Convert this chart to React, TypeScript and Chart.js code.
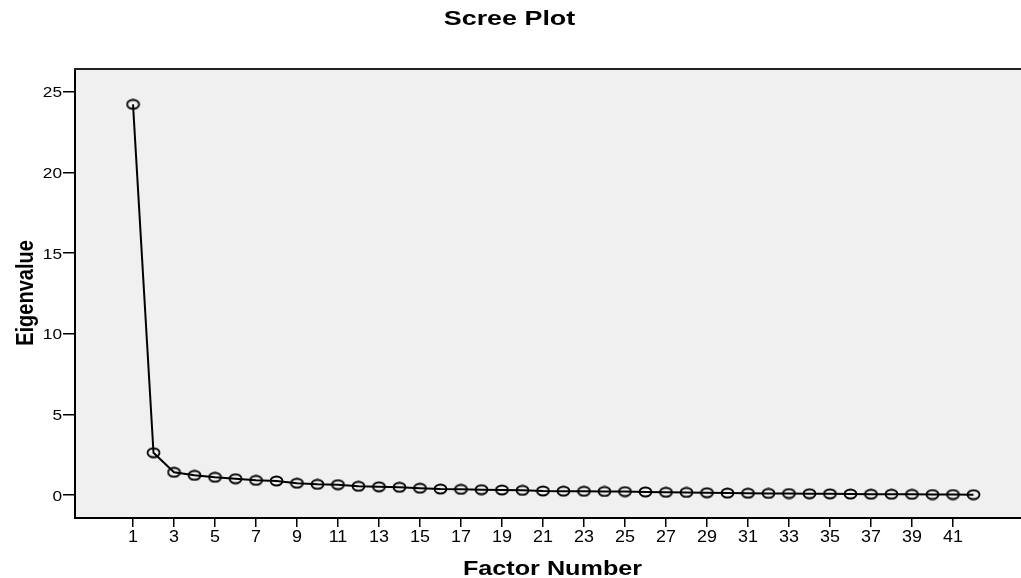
import React, { useEffect, useRef } from "react";
import { Chart, registerables } from "chart.js";

Chart.register(...registerables);

const FACTORS = [
  1, 2, 3, 4, 5, 6, 7, 8, 9, 10, 11, 12, 13, 14, 15, 16, 17, 18, 19, 20, 21,
  22, 23, 24, 25, 26, 27, 28, 29, 30, 31, 32, 33, 34, 35, 36, 37, 38, 39, 40,
  41, 42,
];
const EIGENVALUES = [
  24.22, 2.62, 1.41, 1.22, 1.1, 1.01, 0.91, 0.87, 0.73, 0.66, 0.64, 0.54, 0.51,
  0.48, 0.42, 0.37, 0.35, 0.33, 0.31, 0.29, 0.25, 0.24, 0.23, 0.22, 0.21, 0.19,
  0.17, 0.16, 0.14, 0.12, 0.11, 0.1, 0.09, 0.08, 0.07, 0.06, 0.05, 0.05, 0.04,
  0.03, 0.03, 0.02,
];
const X_TICKS = [
  1, 3, 5, 7, 9, 11, 13, 15, 17, 19, 21, 23, 25, 27, 29, 31, 33, 35, 37, 39, 41,
];
const Y_TICKS = [0, 5, 10, 15, 20, 25];
const TITLE = "Scree Plot";
const X_TITLE = "Factor Number";
const Y_TITLE = "Eigenvalue";

const FONT = '"Liberation Sans", Arial, sans-serif';

function makeMarker(): HTMLCanvasElement {
  const c = document.createElement("canvas");
  c.width = 15;
  c.height = 12;
  const ctx = c.getContext("2d")!;
  ctx.lineWidth = 1.8;
  ctx.strokeStyle = "#000";
  ctx.beginPath();
  ctx.ellipse(7.5, 6, 6, 4.5, 0, 0, Math.PI * 2);
  ctx.stroke();
  return c;
}

function stretchedText(
  ctx: CanvasRenderingContext2D,
  text: string,
  x: number,
  y: number,
  sx: number,
  font: string,
  align: CanvasTextAlign,
  baseline: CanvasTextBaseline,
  rotate = 0
) {
  ctx.save();
  ctx.translate(x, y);
  ctx.scale(sx, 1);
  if (rotate) ctx.rotate(rotate);
  ctx.font = font;
  ctx.fillStyle = "#000";
  ctx.textAlign = align;
  ctx.textBaseline = baseline;
  ctx.fillText(text, 0, 0);
  ctx.restore();
}

const framePlugin = {
  id: "frame",
  beforeDraw(chart: any) {
    const { ctx, chartArea, width, height } = chart;
    ctx.save();
    ctx.fillStyle = "#ffffff";
    ctx.fillRect(0, 0, width, height);
    ctx.fillStyle = "#f0f0f0";
    ctx.fillRect(
      chartArea.left,
      chartArea.top,
      chartArea.right - chartArea.left,
      chartArea.bottom - chartArea.top
    );
    ctx.restore();
  },
  afterDraw(chart: any) {
    const { ctx, chartArea } = chart;
    ctx.save();
    ctx.strokeStyle = "#222";
    ctx.lineWidth = 2;
    ctx.beginPath();
    ctx.moveTo(chartArea.left - 1, chartArea.top);
    ctx.lineTo(chartArea.right, chartArea.top);
    ctx.stroke();
    ctx.restore();

    const xs = chart.scales.x;
    const ys = chart.scales.y;
    for (const t of ys.ticks) {
      const py = ys.getPixelForValue(t.value);
      stretchedText(ctx, String(t.label), 62, py + 1.5, 1.15, `15px ${FONT}`, "right", "middle");
    }
    for (const t of xs.ticks) {
      const px = xs.getPixelForValue(t.value);
      stretchedText(ctx, String(t.label), px, 542, 1.12, `16px ${FONT}`, "center", "alphabetic");
    }
    stretchedText(ctx, TITLE, 509.5, 25, 1.28, `bold 21px ${FONT}`, "center", "alphabetic");
    stretchedText(ctx, X_TITLE, 552.5, 575, 1.26, `bold 20px ${FONT}`, "center", "alphabetic");
    stretchedText(ctx, Y_TITLE, 32.5, 293, 1.15, `bold 20px ${FONT}`, "center", "alphabetic", -Math.PI / 2);
  },
};

export default function App() {
  const ref = useRef<HTMLCanvasElement | null>(null);

  useEffect(() => {
    if (!ref.current) return;
    const marker = makeMarker();
    const chart = new Chart(ref.current, {
      type: "line",
      data: {
        datasets: [
          {
            data: FACTORS.map((f, i) => ({ x: f, y: EIGENVALUES[i] })),
            borderColor: "#000",
            borderWidth: 2,
            pointStyle: marker as any,
            pointRadius: 6,
            pointHoverRadius: 6,
            tension: 0,
            fill: false,
          },
        ],
      },
      options: {
        animation: false,
        responsive: false,
        events: [],
        layout: { autoPadding: false, padding: { top: 69, left: 0, right: 0, bottom: 0 } },
        plugins: {
          legend: { display: false },
          title: { display: false },
          tooltip: { enabled: false },
        },
        scales: {
          x: {
            type: "linear",
            min: -1.83,
            max: 44.32,
            afterBuildTicks: (s: any) => {
              s.ticks = X_TICKS.map((v) => ({ value: v }));
            },
            afterFit: (s: any) => {
              s.height = 60;
            },
            ticks: { display: false },
            grid: {
              display: true,
              drawOnChartArea: false,
              drawTicks: true,
              tickLength: 9,
              color: "#000",
              lineWidth: 1.5,
            },
            border: { display: true, color: "#000", width: 2 },
          },
          y: {
            type: "linear",
            min: -1.426,
            max: 26.41,
            afterBuildTicks: (s: any) => {
              s.ticks = Y_TICKS.map((v) => ({ value: v }));
            },
            afterFit: (s: any) => {
              s.width = 75;
            },
            ticks: { display: false },
            grid: {
              display: true,
              drawOnChartArea: false,
              drawTicks: true,
              tickLength: 12,
              color: "#000",
              lineWidth: 1.5,
            },
            border: { display: true, color: "#000", width: 2 },
          },
        },
      } as any,
      plugins: [framePlugin],
    });
    return () => chart.destroy();
  }, []);

  return (
    <div style={{ position: "absolute", left: 0, top: 0, width: 1021, height: 578 }}>
      <canvas ref={ref} width={1021} height={578} style={{ display: "block" }} />
    </div>
  );
}
